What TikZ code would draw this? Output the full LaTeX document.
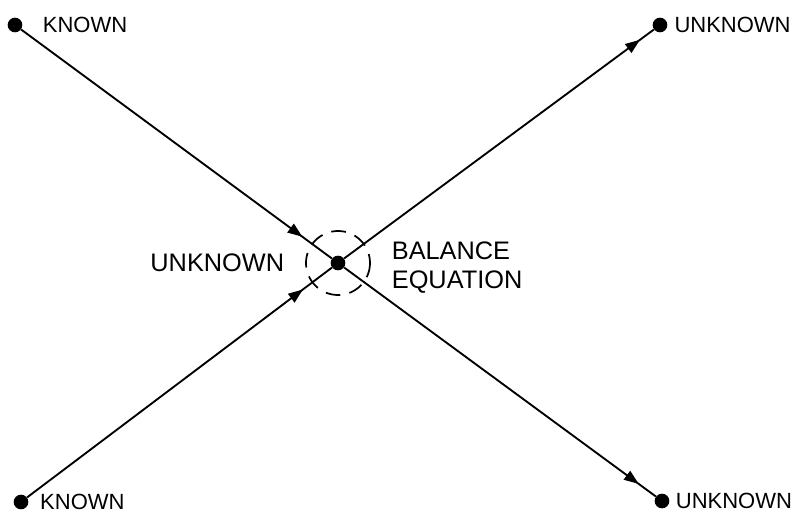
\documentclass[tikz,border=0pt]{standalone}
\usepackage{fontspec}
\setmainfont{Liberation Sans}
\usetikzlibrary{arrows.meta,decorations.markings,positioning}

\begin{document}
\begin{tikzpicture}[x=0.75pt,y=-0.75pt,
    dot/.style={circle,fill=black,inner sep=0pt,minimum size=11pt},
    small/.style={inner sep=0pt,font=\fontsize{16.5}{18}\selectfont},
    big/.style={inner sep=0pt,font=\fontsize{19}{22}\selectfont},
    flow/.style={line width=1.4pt,decoration={markings,mark=at position #1 with {\arrow{Triangle[length=11pt,width=8pt]}}},postaction={decorate}}]
    \useasboundingbox (0,0) rectangle (808,517);

    % nodes of the balance
    \node[dot] (C) at (338,263) {};
    \node[dot] (K1) at (15,25) {}; \node[dot] (K2) at (21,502) {};
    \node[dot] (U1) at (660,25) {}; \node[dot] (U2) at (662,501) {};

    \draw[line width=1.3pt, dash pattern=on 11pt off 7pt] (C) circle (32);

    % connectors
    \draw[flow=0.905] (K1) -- (C);
    \draw[flow=0.905] (K2) -- (C);
    \draw[flow=0.955] (C) -- (U1);
    \draw[flow=0.945] (C) -- (U2);

    % labels
    \node[small, right=15pt of K1] (K1t) {KNOWN};
    \node[small, right=8.5pt of K2] (K2t) {KNOWN};
    \node[small, right=5pt of U1] (U1t) {UNKNOWN};
    \node[small, right=4.5pt of U2] (U2t) {UNKNOWN};
    \node[big, left=34.5pt of C] (Ct) {UNKNOWN};
    \node[big, align=left, right=34.5pt of C, yshift=-3.5pt] (Bt) {BALANCE\\EQUATION};
\end{tikzpicture}
\end{document}
